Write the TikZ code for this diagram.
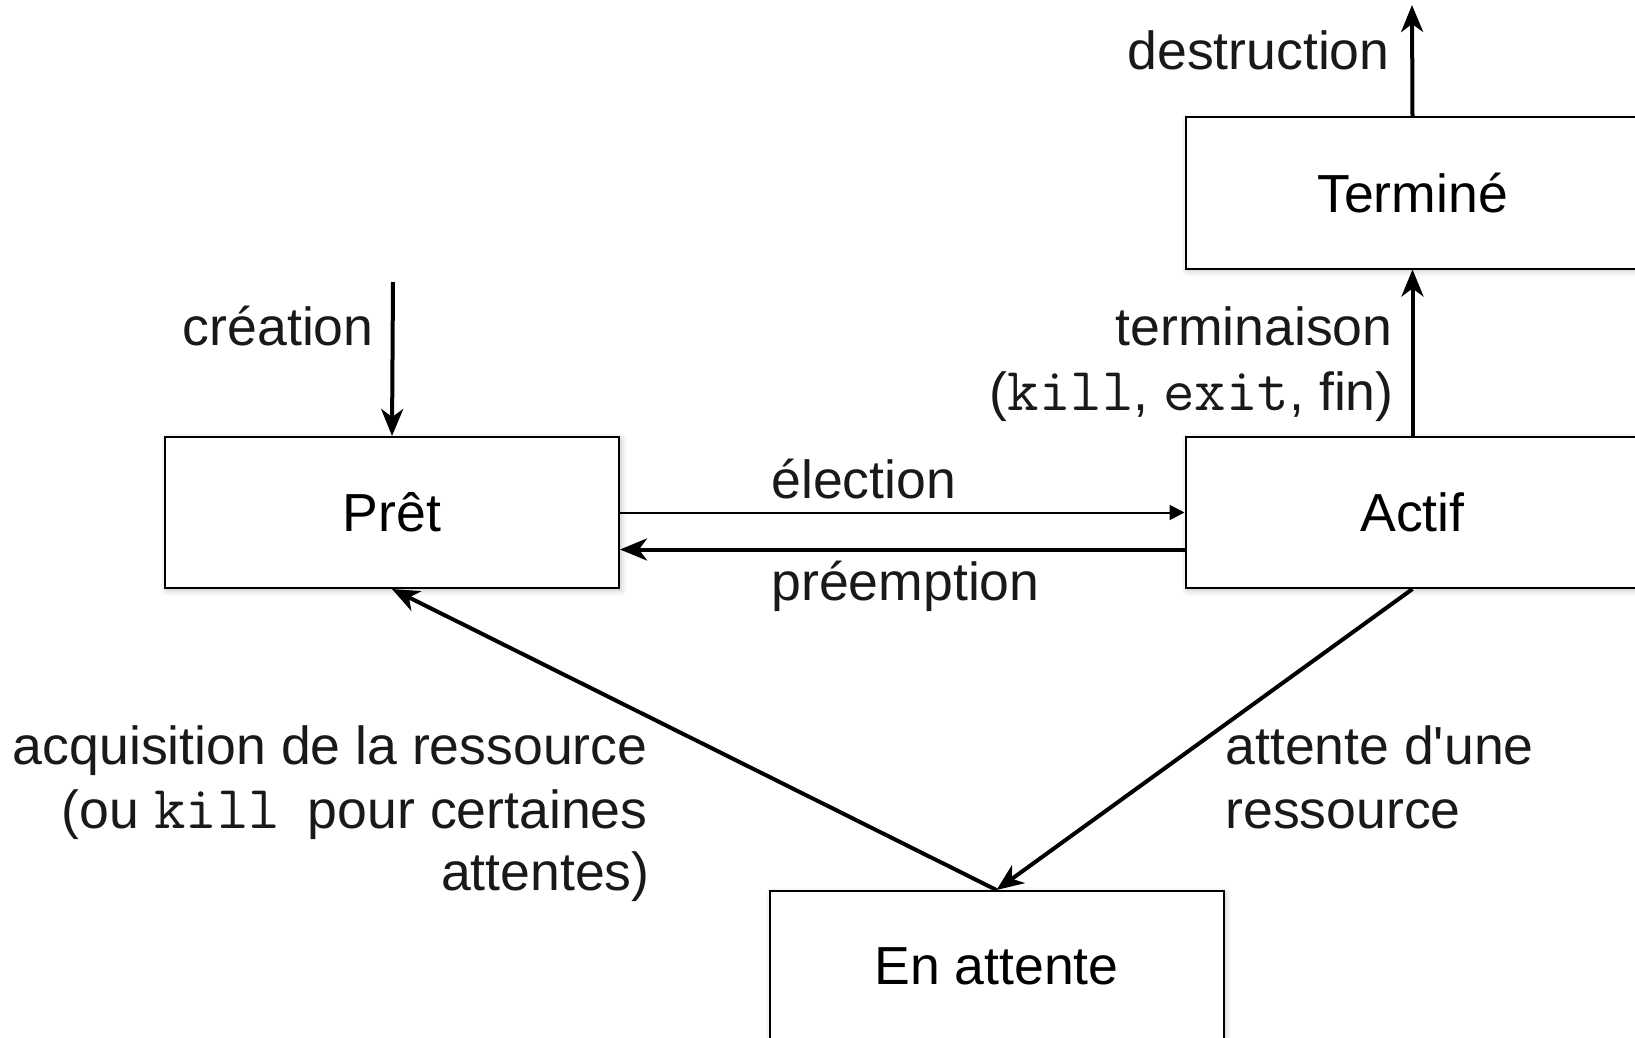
\documentclass[tikz,border=0pt]{standalone}
\usepackage{fontspec}
\setmainfont{Liberation Sans}
\setmonofont{Latin Modern Mono}[Scale=1.14]
\usetikzlibrary{arrows.meta,shadows.blur}
\begin{document}
\begin{tikzpicture}[x=0.5pt,y=-0.5pt,
  font=\fontsize{26.8pt}{31.5pt}\selectfont,
  state/.style={draw=black,line width=1pt,fill=white,minimum width=227pt,minimum height=75.5pt,inner sep=0pt,
    blur shadow={shadow xshift=1pt,shadow yshift=-1pt,shadow blur radius=3pt,shadow opacity=25}},
  lbl/.style={inner sep=0pt,text=black!90},
  big/.style={line width=2pt,-{Stealth[length=13.5pt,width=11pt,inset=4pt]}},
  thin/.style={line width=1pt,-{Triangle[length=7.5pt,width=7.5pt]}}]
\useasboundingbox (0,0) rectangle (1635,1038);
\node[state] (pret) at (392,512.5) {Prêt};
\node[state] (actif) at (1412.5,512.5) {Actif};
\node[state] (termine) at (1412.5,193) {Terminé};
\node[state] (attente) at (996.5,966.5) {En attente};
\coordinate (creat) at (393,282);
\coordinate (destr) at (1412,5);
% connectors
\draw[big] (creat) -- (pret.north);
\draw[big] (termine.north) -- (destr);
\draw[big] (actif.north) -- (termine.south);
\draw[thin] (pret.east) -- (actif.west);
\draw[big] ([yshift=-18.5pt]actif.west) -- ([yshift=-18.5pt]pret.east);
\draw[big] (attente.north) -- (pret.south);
\draw[big] (actif.south) -- (attente.north);
% labels
\node[lbl,anchor=base east] (ldestr) at (1390,70) {destruction};
\node[lbl,anchor=base east] (lcreat) at (374,345) {création};
\node[lbl,anchor=base east] (lterm1) at (1393,345) {terminaison};
\node[lbl,anchor=base east] (lterm2) at (1394,410) {({\ttfamily kill}, {\ttfamily exit}, fin)};
\node[lbl,anchor=base west] (lelec) at (771,498) {élection};
\node[lbl,anchor=base west] (lpreem) at (771,600) {préemption};
\node[lbl,anchor=base east] (lacq1) at (648,764) {acquisition de la ressource};
\node[lbl,anchor=base east] (lacq2) at (648,828) {(ou {\ttfamily kill}\hspace{14pt}pour certaines};
\node[lbl,anchor=base east] (lacq3) at (650,890) {attentes)};
\node[lbl,anchor=base west] (latt1) at (1225,764) {attente d\textquotesingle une};
\node[lbl,anchor=base west] (latt2) at (1225,828) {ressource};
\end{tikzpicture}
\end{document}
